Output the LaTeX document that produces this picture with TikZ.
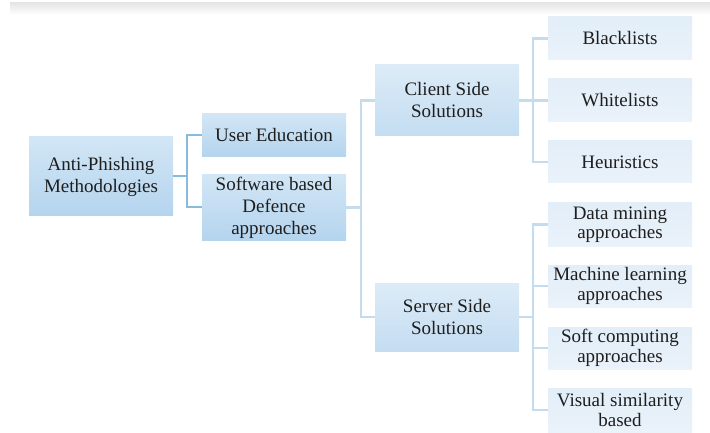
\documentclass[tikz,border=0pt]{standalone}
\usepackage{fontspec}
\setmainfont{Liberation Serif}
\definecolor{rootTop}{HTML}{D2E6F5}
\definecolor{rootBot}{HTML}{B4D4EE}
\definecolor{midTop}{HTML}{DCEBF7}
\definecolor{midBot}{HTML}{C4DDF1}
\definecolor{leafTop}{HTML}{E2EEF8}
\definecolor{leafBot}{HTML}{EAF2FA}
\definecolor{linkDark}{HTML}{88BBDD}
\definecolor{linkLight}{HTML}{C4DCEE}
\definecolor{inkText}{HTML}{1E1E1E}
\begin{document}
\begin{tikzpicture}[x=1pt,y=-1pt,
  basebox/.style={draw=none, inner sep=2pt, align=center, text=inkText,
    minimum width=144pt, font=\fontsize{19}{22}\selectfont},
  rootbox/.style={basebox, top color=rootTop, bottom color=rootBot},
  midbox/.style={basebox, top color=midTop, bottom color=midBot},
  leafbox/.style={basebox, top color=leafTop, bottom color=leafBot,
    font=\fontsize{19}{19.5}\selectfont},
  linkA/.style={draw=linkDark, line width=2pt},
  linkB/.style={draw=linkLight, line width=2.2pt}]
\useasboundingbox (0,0) rectangle (710,433);

% faint header band
\shade[top color=black!10, bottom color=white] (10,3) rectangle (710,15);

% level 0 and 1
\node[rootbox, minimum height=79pt] (ap) at (101,176.5) {Anti-Phishing\\Methodologies};
\node[rootbox, minimum height=43pt] (ue) at (274,135.5) {User Education};
\node[rootbox, minimum height=63pt] (sw) at (274,207.5) {Software based\\Defence\\approaches};

% level 2
\node[midbox, minimum height=71pt] (cs) at (447,100.5) {Client Side\\Solutions};
\node[midbox, minimum height=68pt] (ss) at (447,317) {Server Side\\Solutions};

% client side leaves
\node[leafbox, minimum height=43pt] (bl) at (620,38.5) {Blacklists};
\node[leafbox, minimum height=43pt] (wl) at (620,100.5) {Whitelists};
\node[leafbox, minimum height=42pt] (he) at (620,162) {Heuristics};

% server side leaves
\node[leafbox, minimum height=43pt] (dm) at (620,224.5) {Data mining\\approaches};
\node[leafbox, minimum height=42pt] (ml) at (620,286) {Machine learning\\approaches};
\node[leafbox, minimum height=42pt] (sc) at (620,348) {Soft computing\\approaches};
\node[leafbox, minimum height=44pt] (vs) at (620,410) {Visual similarity\\based};

% connectors, root level
\draw[linkA] (ap.east) -- ++(14.5,0);
\draw[linkA] (ue.west) -- ++(-14.5,0) |- (sw.west);

% connectors, second level
\draw[linkB] (sw.east) -- ++(15,0);
\draw[linkB] (cs.west) -- ++(-14,0) |- (ss.west);

% connectors, client side
\draw[linkB] (cs.east) -- (wl.west);
\draw[linkB] (bl.west) -- ++(-14.5,0) |- (he.west);

% connectors, server side
\draw[linkB] (ss.east) -- ++(14.5,0);
\draw[linkB] (dm.west) -- ++(-14.5,0) |- (vs.west);
\draw[linkB] (ml.west) -- ++(-14.5,0);
\draw[linkB] (sc.west) -- ++(-14.5,0);
\end{tikzpicture}
\end{document}
